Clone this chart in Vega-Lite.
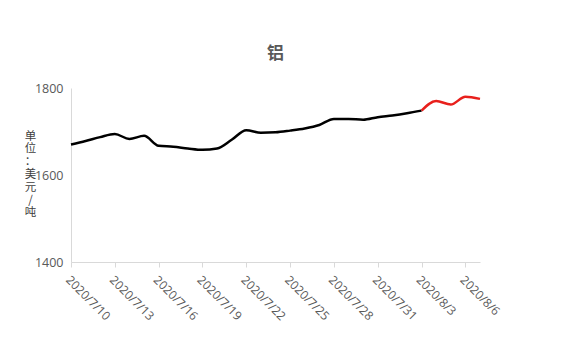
{
  "$schema": "https://vega.github.io/schema/vega-lite/v6.json",
  "width": 409,
  "height": 174,
  "autosize": {"type": "none"},
  "padding": {"left": 71, "top": 88, "right": 97, "bottom": 95},
  "background": "white",
  "title": {
    "text": "铝",
    "font": "Noto Sans CJK SC",
    "fontSize": 17,
    "fontWeight": "bold",
    "color": "#595959",
    "anchor": "middle",
    "offset": 19
  },
  "config": {
    "view": {"stroke": null},
    "axis": {"grid": false, "labelColor": "#595959", "labelFont": "Open Sans", "labelFontSize": 12, "domainColor": "#d9d9d9", "tickColor": "#d9d9d9"}
  },
  "data": {
    "values": [
      {"date": "2020-07-10", "price": 1670, "series": "实际"},
      {"date": "2020-07-11", "price": 1678, "series": "实际"},
      {"date": "2020-07-12", "price": 1687, "series": "实际"},
      {"date": "2020-07-13", "price": 1694, "series": "实际"},
      {"date": "2020-07-14", "price": 1683, "series": "实际"},
      {"date": "2020-07-15", "price": 1690, "series": "实际"},
      {"date": "2020-07-16", "price": 1667, "series": "实际"},
      {"date": "2020-07-17", "price": 1665, "series": "实际"},
      {"date": "2020-07-18", "price": 1661, "series": "实际"},
      {"date": "2020-07-19", "price": 1658, "series": "实际"},
      {"date": "2020-07-20", "price": 1661, "series": "实际"},
      {"date": "2020-07-21", "price": 1681, "series": "实际"},
      {"date": "2020-07-22", "price": 1703, "series": "实际"},
      {"date": "2020-07-23", "price": 1697, "series": "实际"},
      {"date": "2020-07-24", "price": 1698, "series": "实际"},
      {"date": "2020-07-25", "price": 1702, "series": "实际"},
      {"date": "2020-07-26", "price": 1707, "series": "实际"},
      {"date": "2020-07-27", "price": 1715, "series": "实际"},
      {"date": "2020-07-28", "price": 1729, "series": "实际"},
      {"date": "2020-07-29", "price": 1729, "series": "实际"},
      {"date": "2020-07-30", "price": 1727, "series": "实际"},
      {"date": "2020-07-31", "price": 1733, "series": "实际"},
      {"date": "2020-08-01", "price": 1737, "series": "实际"},
      {"date": "2020-08-02", "price": 1742, "series": "实际"},
      {"date": "2020-08-03", "price": 1748, "series": "实际"},
      {"date": "2020-08-03", "price": 1748, "series": "预测"},
      {"date": "2020-08-04", "price": 1770, "series": "预测"},
      {"date": "2020-08-05", "price": 1762, "series": "预测"},
      {"date": "2020-08-06", "price": 1780, "series": "预测"},
      {"date": "2020-08-07", "price": 1775, "series": "预测"}
    ]
  },
  "mark": {"type": "line", "interpolate": "monotone", "strokeWidth": 2.5},
  "encoding": {
    "x": {
      "field": "date",
      "type": "temporal",
      "scale": {"type": "utc", "domain": [{"year": 2020, "month": 7, "date": 10, "utc": true}, {"year": 2020, "month": 8, "date": 7, "utc": true}], "nice": false},
      "axis": {
        "title": null,
        "labelExpr": "utcFormat(datum.value, '%Y/%-m/%-d')",
        "labelAngle": 45,
        "labelAlign": "left",
        "labelBaseline": "top",
        "labelPadding": 7,
        "labelDx": 2,
        "tickSize": 5,
        "labelOverlap": false,
        "labelFlush": false,
        "values": [
          {"year": 2020, "month": 7, "date": 10, "utc": true},
          {"year": 2020, "month": 7, "date": 13, "utc": true},
          {"year": 2020, "month": 7, "date": 16, "utc": true},
          {"year": 2020, "month": 7, "date": 19, "utc": true},
          {"year": 2020, "month": 7, "date": 22, "utc": true},
          {"year": 2020, "month": 7, "date": 25, "utc": true},
          {"year": 2020, "month": 7, "date": 28, "utc": true},
          {"year": 2020, "month": 7, "date": 31, "utc": true},
          {"year": 2020, "month": 8, "date": 3, "utc": true},
          {"year": 2020, "month": 8, "date": 6, "utc": true}
        ]
      }
    },
    "y": {
      "field": "price",
      "type": "quantitative",
      "scale": {"domain": [1400, 1800], "nice": false, "zero": false},
      "axis": {
        "values": [1400, 1600, 1800],
        "format": "d",
        "ticks": false,
        "labelPadding": 8,
        "labelFontSize": 12.5,
        "title": ["单", "位", "：", "美", "元", "/", "吨"],
        "titleAngle": 0,
        "titleFont": "Noto Sans CJK SC",
        "titleFontSize": 11.5,
        "titleFontWeight": "normal",
        "titleColor": "#404040",
        "titleLineHeight": 12.8,
        "titleAlign": "center",
        "titleBaseline": "top",
        "titleX": -41,
        "titleY": 42
      }
    },
    "color": {
      "field": "series",
      "type": "nominal",
      "scale": {"domain": ["实际", "预测"], "range": ["#000000", "#e8201c"]},
      "legend": null
    }
  }
}
